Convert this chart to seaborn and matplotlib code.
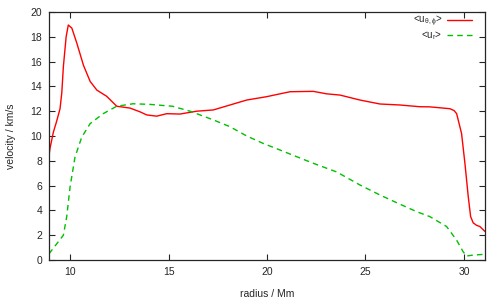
import numpy as np
import pandas as pd
import matplotlib
matplotlib.use("Agg")
import matplotlib.pyplot as plt
import seaborn as sns

# horizontal velocity <u_theta,phi>
r_h = [8.93, 8.98, 9.15, 9.32, 9.49, 9.58, 9.66, 9.80, 9.91, 10.09, 10.34, 10.68, 11.02,
       11.36, 11.86, 12.37, 13.05, 13.55, 13.89, 14.40, 14.91, 15.58, 16.43, 17.27,
       18.12, 18.97, 19.98, 20.66, 21.17, 22.35, 23.03, 23.71, 24.72, 25.74, 26.75,
       27.77, 28.27, 29.29, 29.50, 29.63, 29.88, 30.05, 30.22, 30.34, 30.47, 30.64, 30.81, 31.07]
u_h = [8.4, 9.0, 10.3, 11.2, 12.2, 13.5, 15.6, 18.0, 18.95, 18.7, 17.5, 15.7, 14.4,
       13.7, 13.2, 12.4, 12.25, 11.95, 11.7, 11.6, 11.8, 11.77, 12.0, 12.1,
       12.5, 12.9, 13.17, 13.4, 13.57, 13.6, 13.4, 13.3, 12.9, 12.58, 12.5,
       12.36, 12.35, 12.2, 12.05, 11.8, 10.2, 7.8, 5.1, 3.5, 3.0, 2.8, 2.7, 2.3]

# radial velocity <u_r>
r_r = [8.93, 9.66, 9.83, 10.0, 10.25, 10.59, 11.02, 11.68, 12.37, 13.2, 14.05,
       15.20, 16.09, 16.43, 17.27, 18.12, 18.97, 19.81, 20.66, 21.51, 22.35, 23.54,
       24.72, 25.74, 26.75, 27.60, 28.27, 29.12, 29.63, 29.96, 30.13, 30.47, 31.07]
u_r = [0.5, 2.0, 3.5, 5.9, 8.3, 9.9, 11.0, 11.8, 12.4, 12.6, 12.55,
       12.4, 12.0, 11.8, 11.3, 10.75, 10.0, 9.4, 8.87, 8.33, 7.8, 7.1,
       6.05, 5.24, 4.5, 3.9, 3.5, 2.7, 1.6, 0.67, 0.32, 0.4, 0.46]

df = pd.concat([
    pd.DataFrame({"r": r_h, "u": u_h, "comp": r"<u$_{\theta,\phi}$>"}),
    pd.DataFrame({"r": r_r, "u": u_r, "comp": r"<u$_{r}$>"}),
])

sns.set_style("ticks")
plt.rcParams["font.family"] = ["Liberation Sans", "DejaVu Sans"]
plt.rcParams["mathtext.fontset"] = "custom"
plt.rcParams["mathtext.rm"] = "Liberation Sans"
plt.rcParams["mathtext.it"] = "Liberation Sans"

fig = plt.figure(figsize=(4.98, 2.99), dpi=100)
ax = fig.add_axes([0.0984, 0.1304, 0.8755, 0.8295])

sns.lineplot(data=df, x="r", y="u", hue="comp", style="comp",
             palette=["#ff0000", "#00c000"], dashes=[(None, None), (4, 3)],
             linewidth=1.0, sort=False, ax=ax)

ax.set_xlim(8.93, 31.07)
ax.set_ylim(0, 20)
ax.set_xticks([10, 15, 20, 25, 30])
ax.set_yticks(np.arange(0, 21, 2))
ax.tick_params(direction="in", top=True, right=True, labelsize=7.5, length=4, width=0.8, pad=5)
for s in ax.spines.values():
    s.set_linewidth(0.9)
ax.set_xlabel("radius / Mm", fontsize=7.5, labelpad=9)
ax.set_ylabel("velocity / km/s", fontsize=7.5, labelpad=10)

ax.legend(loc="upper right", frameon=False, markerfirst=False, fontsize=7,
          handlelength=2.6, handletextpad=0.5, borderaxespad=0.0,
          borderpad=0.2, labelspacing=0.0, title=None,
          bbox_to_anchor=(0.975, 1.0))

fig.savefig("out.png", dpi=100)
